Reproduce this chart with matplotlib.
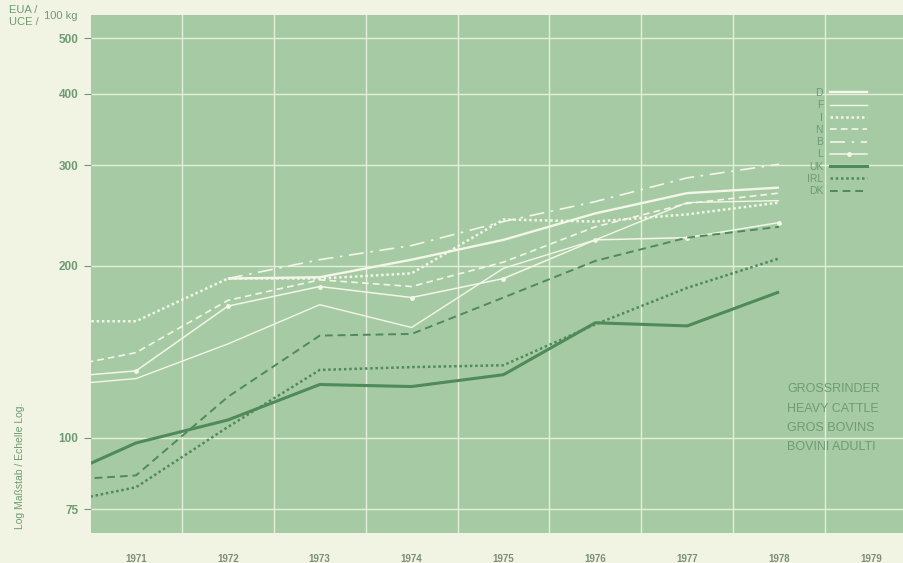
import numpy as np
import matplotlib
matplotlib.use('Agg')
import matplotlib.pyplot as plt
from matplotlib.lines import Line2D

# price per 100 kg, heavy cattle, log scale (EUA / UCE)
years = [1970, 1971, 1972, 1973, 1974, 1975, 1976, 1977, 1978]
years_short = [1972, 1973, 1974, 1975, 1976, 1977, 1978]

d_vals = [190, 191, 205, 222, 247, 268, 274]          # from 1972
b_vals = [190, 205, 217, 239, 259, 285, 301]          # from 1972
f_vals = [123, 127, 146, 171, 156, 198, 222, 258, 260]
i_vals = [160, 160, 190, 190, 194, 241, 239, 246, 258]
n_vals = [131, 141, 174, 189, 184, 203, 234, 257, 268]
l_vals = [127, 131, 170, 184, 176, 190, 222, 224, 238]
uk_vals = [83, 98, 107.5, 124, 123, 129, 159, 157, 180]
irl_vals = [76, 82, 104.5, 131.5, 133, 134, 158, 183, 206]
dk_vals = [84, 86, 118, 151, 152, 176, 204, 224, 234]

y_ticks = [75, 100, 200, 300, 400, 500]
x_labels = [1971, 1972, 1973, 1974, 1975, 1976, 1977, 1978, 1979]
notes = ['GROSSRINDER', 'HEAVY CATTLE', 'GROS BOVINS', 'BOVINI ADULTI']

cream = '#f2f4e3'
green_bg = '#a6cba4'
white = '#f3f6e8'
dark = '#4e8a5a'
txt = '#6e9b73'

plt.rcParams['font.family'] = ['Liberation Sans', 'DejaVu Sans']

fig = plt.figure(figsize=(9.04, 5.63), dpi=100, facecolor=cream)
W, H = 904, 563
ax = fig.add_axes([91 / W, 1 - 533 / H, 813 / W, 518 / H])
ax.set_facecolor(green_bg)

ax.set_yscale('log')
ax.set_ylim(68.2, 549)
ax.set_xlim(1970.51, 1979.36)

# grid: horizontal on ticks, vertical between years
for v in y_ticks:
    ax.axhline(v, color='#e6efdc', lw=1.0, zorder=1)
for yr in np.arange(1971.5, 1979.5, 1.0):
    ax.axvline(yr, color='#e6efdc', lw=1.0, zorder=1)

styles = [
    ('D', years_short, d_vals, dict(color=white, lw=1.7, ls='-')),
    ('F', years, f_vals, dict(color=white, lw=1.0, ls='-')),
    ('I', years, i_vals, dict(color=white, lw=1.8, ls=(0, (1, 1.1)))),
    ('N', years, n_vals, dict(color=white, lw=1.2, ls=(0, (4, 2.5)))),
    ('B', years_short, b_vals, dict(color=white, lw=1.2, ls=(0, (9, 4, 1.5, 4)))),
    ('L', years, l_vals, dict(color=white, lw=1.1, ls='-', marker='o', ms=2.5)),
    ('UK', years, uk_vals, dict(color=dark, lw=2.2, ls='-')),
    ('IRL', years, irl_vals, dict(color=dark, lw=1.8, ls=(0, (1, 1.1)))),
    ('DK', years, dk_vals, dict(color=dark, lw=1.4, ls=(0, (4, 2.5)))),
]

handles = []
for name, xs, ys, kw in styles:
    ax.plot(xs, ys, zorder=3, solid_capstyle='butt', **kw)
    handles.append(Line2D([], [], **kw))

leg = ax.legend(handles, [s[0] for s in styles], loc='upper left',
                bbox_to_anchor=((807 - 91) / 813, (533 - 88) / 518),
                frameon=False, markerfirst=False, fontsize=7.5,
                labelspacing=0.22, handlelength=3.5, handletextpad=0.7,
                borderpad=0, borderaxespad=0)
for t in leg.get_texts():
    t.set_color(txt)

ax.set_yticks(y_ticks)
ax.set_yticklabels([str(v) for v in y_ticks])
ax.yaxis.set_minor_locator(matplotlib.ticker.NullLocator())
ax.tick_params(axis='y', colors=txt, labelsize=8.5, length=5, width=0.8, pad=4)
for lab in ax.get_yticklabels():
    lab.set_fontweight('bold')
ax.set_xticks(x_labels)
ax.set_xticklabels([str(v) for v in x_labels], fontweight='bold')
ax.tick_params(axis='x', length=0, labelsize=7, labelcolor='#7b8f76', pad=15)
for s in ax.spines.values():
    s.set_visible(False)

for k, line in enumerate(notes):
    ax.text(787 / W, 1 - (389 + 19.5 * k) / H, line, transform=fig.transFigure,
            fontsize=9, color=txt, ha='left', va='center')

fig.text(9 / W, 1 - 10 / H, 'EUA /', fontsize=8, color=txt, ha='left', va='center')
fig.text(9 / W, 1 - 22 / H, 'UCE /', fontsize=8, color=txt, ha='left', va='center')
fig.text(44 / W, 1 - 16 / H, '100 kg', fontsize=8, color=txt, ha='left', va='center')
fig.text(20 / W, 1 - 466 / H, 'Log Maßstab / Echelle Log.', fontsize=7.5, color=txt,
         rotation=90, ha='center', va='center')

fig.savefig('out.png', dpi=100, facecolor=cream)
